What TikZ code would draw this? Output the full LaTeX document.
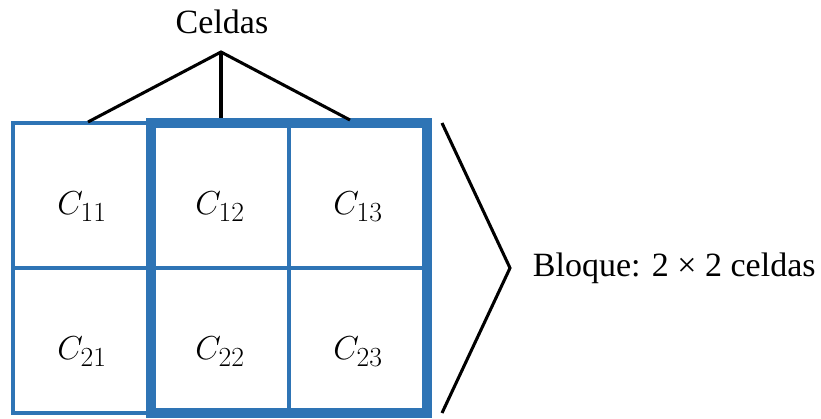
\documentclass[tikz,border=0pt]{standalone}
\usepackage{fontspec}
\setmainfont{Liberation Serif}
\usepackage{tikz}
\usetikzlibrary{positioning}
\definecolor{cgrid}{RGB}{46,116,181}

\begin{document}
\begin{tikzpicture}[
  x=0.75pt,y=-0.75pt,
  font=\fontsize{25.5}{30}\selectfont,
  cell/.style={draw=cgrid,line width=2.5pt,minimum width=103.5pt,minimum height=108.75pt,
    outer sep=0pt,inner sep=0pt,text height=29pt,text depth=0pt,
    font=\fontsize{28}{32}\selectfont},
  block/.style={draw=cgrid,line width=7pt},
  link/.style={black,line width=2.3pt},
]
\useasboundingbox (0,0) rectangle (821,418);

% grid of cells
\node[cell] (c11) at (82,195.5) {$C_{11}$};
\node[cell,right=0pt of c11] (c12) {$C_{12}$};
\node[cell,right=0pt of c12] (c13) {$C_{13}$};
\node[cell,below=0pt of c11] (c21) {$C_{21}$};
\node[cell,right=0pt of c21] (c22) {$C_{22}$};
\node[cell,right=0pt of c22] (c23) {$C_{23}$};

% the 2x2 block
\draw[block] (c12.north west) rectangle (c23.south east);

% cells label on top
\node (celdas) at (222,22) {Celdas};
\coordinate (apex) at (221,52);
\coordinate (ca) at (88,122);
\coordinate (cb) at (221,118);
\coordinate (cc) at (350,120);
\draw[link] (ca) -- (apex) -- (cc);
\draw[link] (apex) -- (cb);

% bracket for the block
\coordinate (btop) at (442,123);
\coordinate (btip) at (510,268);
\coordinate (bbot) at (442,413);
\draw[link] (btop) -- (btip) -- (bbot);
\node[right=17pt of btip,inner sep=0pt] (bloque) {Bloque: 2 × 2 celdas};
\end{tikzpicture}
\end{document}
